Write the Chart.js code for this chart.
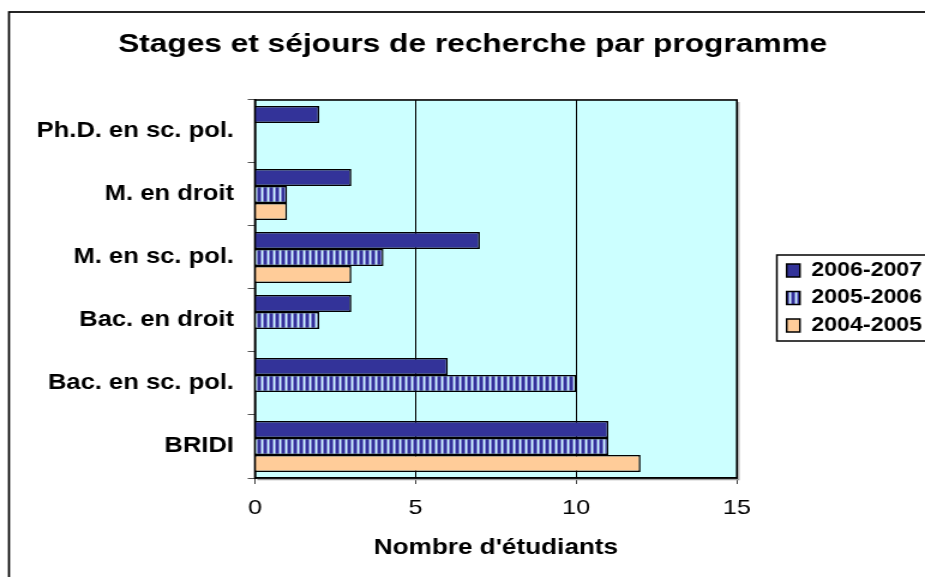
<!DOCTYPE html>
<html><head><meta charset="utf-8">
<script src="https://cdn.jsdelivr.net/npm/chart.js@4.4.1/dist/chart.umd.min.js"></script>
<style>html,body{margin:0;padding:0;background:#fff;overflow:hidden}canvas{display:block}</style>
</head><body>
<canvas id="c" width="771" height="577" style="width:925px;height:577px"></canvas>
<script>
// ---- data ----
const categories = ['Ph.D. en sc. pol.', 'M. en droit', 'M. en sc. pol.', 'Bac. en droit', 'Bac. en sc. pol.', 'BRIDI'];
const seriesLabels = ['2006-2007', '2005-2006', '2004-2005'];
const values2006 = [2, 3, 7, 3, 6, 11];
const values2005 = [0, 1, 4, 2, 10, 11];
const values2004 = [0, 1, 3, 0, 0, 12];
const xTickValues = [0, 5, 10, 15];
const chartTitle = 'Stages et séjours de recherche par programme';
const xAxisTitle = "Nombre d'étudiants";

// ---- layout (canvas is drawn at 771px and stretched to 925px) ----
const W = 771, H = 577;
const PLOT_LEFT = 212.5, PLOT_RIGHT = 614.2, PLOT_TOP = 100, PLOT_BOTTOM = 478;
const PAD_LEFT = 17;
const FONT = "'Liberation Sans', Arial, Helvetica, sans-serif";
const NAVY = '#333399', PEACH = '#ffcc99', PLOT_BG = '#ccffff';

const canvas = document.getElementById('c');
const ctx = canvas.getContext('2d');

function stripePattern() {
  const p = document.createElement('canvas');
  p.width = 5; p.height = 4;
  const g = p.getContext('2d');
  const cols = ['#333399', '#333399', '#7777cc', '#ccffff', '#8c8cd6'];
  cols.forEach((c, i) => { g.fillStyle = c; g.fillRect(i, 0, 1, 4); });
  return ctx.createPattern(p, 'repeat');
}

const decor = {
  id: 'decor',
  beforeDraw(chart) {
    const c = chart.ctx, a = chart.chartArea;
    c.save();
    c.fillStyle = '#fff';
    c.fillRect(0, 0, chart.width, chart.height);
    c.strokeStyle = '#000';
    c.lineWidth = 1.7;
    c.strokeRect(7.5, 12, chart.width + 20, chart.height + 20);
    c.fillStyle = PLOT_BG;
    c.fillRect(a.left, a.top, a.right - a.left, a.bottom - a.top);
    c.restore();
  },
  afterLayout(chart) {
    const L = chart.legend;
    if (L) {
      L.left = 647.5; L.right = L.left + L.width;
      L.top = 252.6; L.bottom = L.top + 200;
    }
  },
  afterDraw(chart) {
    const c = chart.ctx, a = chart.chartArea;
    c.save();
    c.strokeStyle = '#a0a0a0';
    c.lineWidth = 1.2;
    c.beginPath();
    c.moveTo(a.left + 2, a.bottom + 1.6);
    c.lineTo(a.right + 1.6, a.bottom + 1.6);
    c.lineTo(a.right + 1.6, a.top + 2);
    c.stroke();
    c.strokeStyle = '#000';
    c.lineWidth = 1.6;
    c.strokeRect(a.left, a.top, a.right - a.left, a.bottom - a.top);
    c.lineWidth = 1.5;
    c.strokeRect(647.5, 255, 200, 86);
    c.restore();
  }
};

const common = { borderColor: '#000', borderWidth: 1.5, barPercentage: 1.0, categoryPercentage: 0.81 };

new Chart(ctx, {
  type: 'bar',
  data: {
    labels: categories,
    datasets: [
      Object.assign({ label: seriesLabels[0], data: values2006, backgroundColor: NAVY }, common),
      Object.assign({ label: seriesLabels[1], data: values2005, backgroundColor: stripePattern() }, common),
      Object.assign({ label: seriesLabels[2], data: values2004, backgroundColor: PEACH }, common)
    ]
  },
  options: {
    indexAxis: 'y',
    responsive: false,
    devicePixelRatio: 1,
    animation: false,
    events: [],
    layout: { padding: { left: PAD_LEFT, right: 0, top: 0, bottom: 0 } },
    scales: {
      x: {
        type: 'linear', position: 'bottom', min: 0, max: 15,
        afterBuildTicks: s => { s.ticks = xTickValues.map(v => ({ value: v })); },
        afterFit: s => { s.height = H - PLOT_BOTTOM; },
        grid: { color: '#000', lineWidth: 1, tickColor: '#444', tickLength: 6, drawTicks: true },
        border: { display: true, color: '#000', width: 1.5 },
        ticks: { color: '#000', padding: 12, font: { family: FONT, size: 21 } },
        title: { display: true, text: xAxisTitle, color: '#000', font: { family: FONT, size: 21.8, weight: 'bold' }, padding: { top: 4, bottom: 16 } }
      },
      y: {
        type: 'category', position: 'left', offset: true,
        afterFit: s => { s.width = PLOT_LEFT - PAD_LEFT; },
        grid: { offset: true, drawOnChartArea: false, drawTicks: true, tickLength: 6, tickColor: '#555' },
        border: { display: true, color: '#000', width: 1.5 },
        ticks: { color: '#000', padding: 11.5, autoSkip: false, font: { family: FONT, size: 21.3, weight: 'bold' } }
      },
      y2: {
        type: 'linear', position: 'right', display: true,
        grid: { display: false, drawTicks: false },
        border: { display: false },
        ticks: { display: false },
        afterFit: s => { const L = s.chart.legend; s.width = Math.max(0, W - (L ? L.width : 0) - PLOT_RIGHT); }
      }
    },
    plugins: {
      title: {
        display: true, text: chartTitle, color: '#000',
        font: { family: FONT, size: 26.4, weight: 'bold' },
        padding: { top: 29, bottom: 39.3 }
      },
      legend: {
        position: 'right', align: 'start',
        labels: { color: '#000', boxWidth: 11, boxHeight: 13, padding: 8.2, font: { family: FONT, size: 19.3, weight: 'bold' } }
      },
      tooltip: { enabled: false }
    }
  },
  plugins: [decor]
});
</script>
</body></html>
